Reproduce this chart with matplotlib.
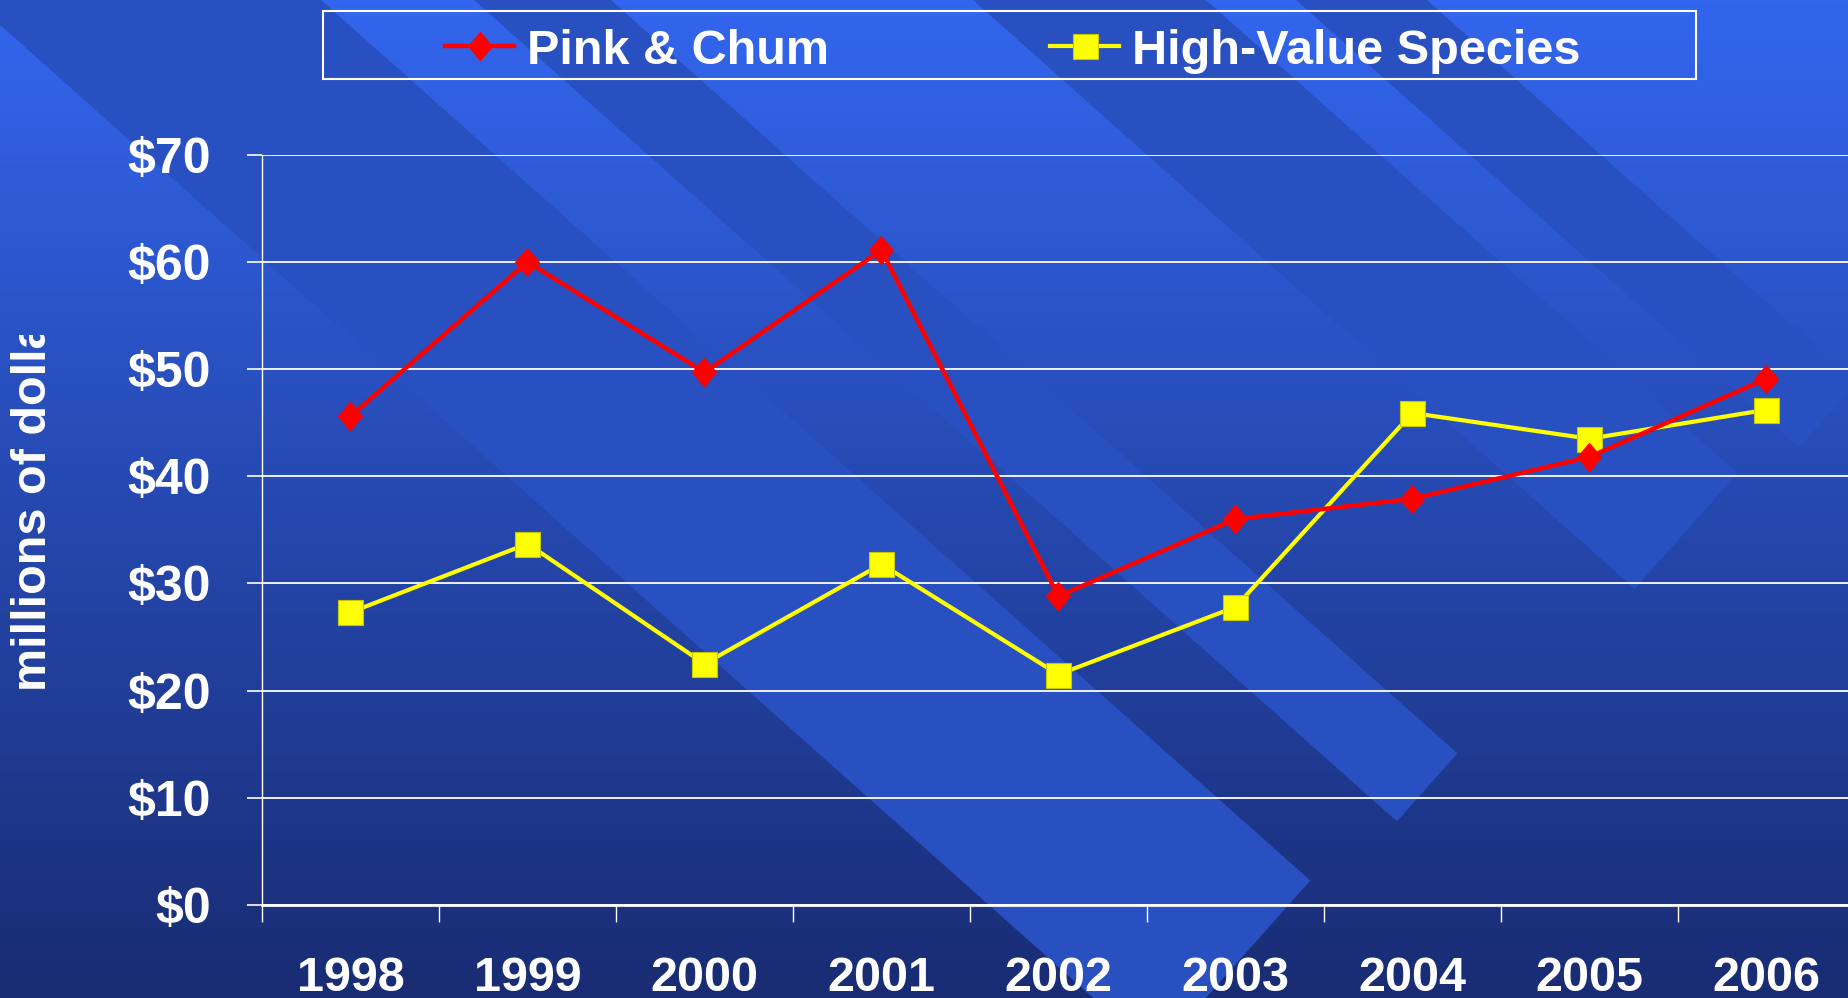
import numpy as np
import matplotlib
matplotlib.use('Agg')
import matplotlib.pyplot as plt
from matplotlib.patches import Polygon, Rectangle
from matplotlib.transforms import Bbox, TransformedBbox

# Values (millions of dollars)
years = ['1998', '1999', '2000', '2001', '2002', '2003', '2004', '2005', '2006']
pink_chum = [45.6, 60.0, 49.7, 61.1, 28.8, 36.0, 37.9, 41.8, 49.1]
high_value = [27.3, 33.7, 22.5, 31.8, 21.5, 27.8, 45.9, 43.5, 46.2]
y_ticks = [0, 10, 20, 30, 40, 50, 60, 70]
y_labels = ['$0', '$10', '$20', '$30', '$40', '$50', '$60', '$70']
series_names = ['Pink & Chum', 'High-Value Species']

plt.rcParams['font.family'] = ['Liberation Sans', 'DejaVu Sans']
plt.rcParams['font.weight'] = 'bold'

W, H = 1849, 998
fig = plt.figure(figsize=(W / 100, H / 100), dpi=100)

# background: vertical gradient with diagonal bands (pixel coords, y down)
bg = fig.add_axes([0, 0, 1, 1], zorder=-10)
top = np.array([51, 102, 238]) / 255
bottom = np.array([25, 44, 115]) / 255
t = np.linspace(0, 1, 256)[:, None, None]
bg.imshow(top * (1 - t) + bottom * t, extent=[0, W, H, 0], aspect='auto')
bg.set_xlim(0, W)
bg.set_ylim(H, 0)
bg.axis('off')

k = 0.89  # slope of the bands
bands = [(-28, 321, (1309, 882)), (474, 611, (1456, 755)),
         (973, 1206, (1639, 584)), (1296, 1427, (1799, 448))]
for xl, xr, (px, py) in bands:
    tl = (px - xl + k * py) / (1 + k * k)
    tr = (px - xr + k * py) / (1 + k * k)
    pts = [(xl - 60 / k, -60), (xr - 60 / k, -60),
           (xr + tr, k * tr), (xl + tl, k * tl)]
    bg.add_patch(Polygon(pts, closed=True, facecolor='#2850c0', edgecolor='none'))

# main plot
ax = fig.add_axes([0.1417, 0.0932, 0.8615, 0.7518])
ax.set_facecolor('none')
x = np.arange(len(years))
diamond = [(0, 1), (0.85, 0), (0, -1), (-0.85, 0), (0, 1)]
l1, = ax.plot(x, pink_chum, color='#ff0000', lw=3.2, marker=diamond, ms=20,
              mfc='#ff0000', mec='#ff0000', zorder=5)
l2, = ax.plot(x, high_value, color='#ffff00', lw=3.0, marker='s', ms=18,
              mfc='#ffff00', mec='#c8c800', mew=0.8, zorder=4)

ax.set_xlim(-0.5, 8.5)
ax.set_ylim(0, 70)
ax.set_yticks(y_ticks)
ax.set_yticklabels(y_labels)
ax.yaxis.grid(True, color='white', lw=1.3)
ax.set_axisbelow(True)

ax.set_xticks(np.arange(-0.5, 8.0, 1))
ax.set_xticklabels([])
ax.set_xticks(x, minor=True)
ax.set_xticklabels(years, minor=True)
ax.tick_params(axis='x', which='major', length=12, width=1, color='white')
ax.tick_params(axis='x', which='minor', length=0, pad=37, labelsize=35, labelcolor='white')
ax.tick_params(axis='y', length=10.8, width=1.2, color='white', pad=26,
               labelsize=36, labelcolor='white')

for side in ['top', 'right']:
    ax.spines[side].set_visible(False)
ax.spines['left'].set_color('white')
ax.spines['left'].set_linewidth(1.0)
ax.spines['bottom'].set_color('white')
ax.spines['bottom'].set_linewidth(2.0)

# y label, cut off like in the original slide
ylab = fig.text(33.5 / W, 1 - 691 / H, 'millions of dollars', rotation=90,
                ha='center', va='bottom', color='white', fontsize=35)
ylab.set_clip_box(TransformedBbox(Bbox([[0, 0], [1, 1 - 335 / H]]), fig.transFigure))
ylab.set_clip_on(True)

# legend with a separate frame
fig.legend(handles=[l1, l2], labels=series_names, ncol=2, frameon=False,
           loc='center', bbox_to_anchor=(1013 / W, 1 - 51 / H),
           fontsize=35, handlelength=1.42, handletextpad=0.27,
           columnspacing=4.55, labelcolor='white')
fig.patches.append(Rectangle((323 / W, 1 - 79 / H), 1373 / W, 68.5 / H,
                             transform=fig.transFigure, fill=False,
                             edgecolor='white', lw=1.5))

fig.savefig('out.png', dpi=100)
